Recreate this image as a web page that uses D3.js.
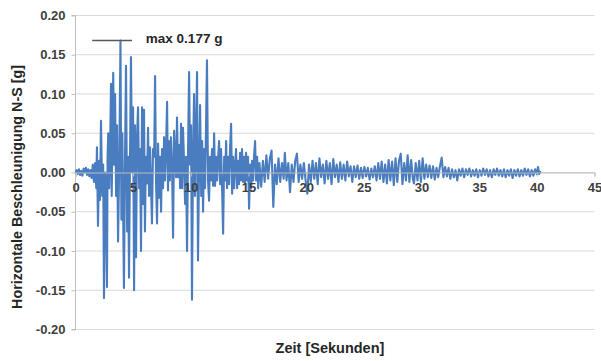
<!DOCTYPE html>
<html>
<head>
<meta charset="utf-8">
<script src="https://cdn.jsdelivr.net/npm/d3@7"></script>
<style>
  html, body { margin: 0; padding: 0; background: #ffffff; }
  svg { display: block; }
  text { font-family: "Liberation Sans", Arial, sans-serif; font-weight: bold; }
</style>
</head>
<body>
<script>
// ---------- data ----------
const times = [
  0.00,0.10,0.20,0.30,0.40,0.50,0.60,0.70,0.80,0.90,1.00,1.10,1.20,1.30,1.40,1.50,1.60,1.70,1.80,1.86,
  1.95,2.05,2.12,2.21,2.32,2.40,2.47,2.58,2.66,2.73,2.78,2.84,2.92,3.00,3.08,3.14,3.20,3.27,3.35,3.43,
  3.52,3.60,3.69,3.80,3.90,3.98,4.06,4.20,4.30,4.38,4.48,4.56,4.64,4.72,4.81,4.90,4.99,5.08,5.16,5.25,
  5.33,5.42,5.52,5.60,5.68,5.77,5.85,5.94,6.02,6.10,6.20,6.29,6.38,6.46,6.55,6.63,6.72,6.82,6.90,6.98,
  7.07,7.16,7.25,7.33,7.42,7.50,7.59,7.68,7.76,7.85,7.94,8.02,8.10,8.18,8.28,8.37,8.46,8.55,8.63,8.72,
  8.80,8.90,9.00,9.07,9.15,9.24,9.32,9.42,9.50,9.58,9.67,9.76,9.85,9.93,10.02,10.10,10.19,10.28,10.36,10.45,
  10.54,10.62,10.71,10.80,10.90,10.98,11.06,11.15,11.23,11.32,11.40,11.49,11.58,11.66,11.75,11.84,11.93,12.02,12.10,12.19,
  12.28,12.37,12.45,12.54,12.62,12.71,12.80,12.89,12.97,13.06,13.14,13.23,13.32,13.40,13.49,13.58,13.66,13.75,13.84,13.92,
  14.01,14.10,14.18,14.27,14.36,14.44,14.53,14.62,14.70,14.79,14.88,14.96,15.05,15.14,15.23,15.31,15.40,15.48,15.57,15.66,
  15.75,15.84,15.95,16.10,16.25,16.40,16.55,16.70,16.85,17.00,17.15,17.30,17.45,17.60,17.75,17.90,18.05,18.15,18.30,18.45,
  18.60,18.75,18.90,19.05,19.20,19.35,19.50,19.65,19.80,19.95,20.10,20.25,20.40,20.55,20.70,20.85,21.00,21.15,21.30,21.45,
  21.60,21.75,21.90,22.05,22.20,22.35,22.50,22.65,22.80,22.95,23.10,23.25,23.40,23.55,23.70,23.85,24.00,24.15,24.30,24.45,
  24.60,24.75,24.90,25.05,25.20,25.35,25.50,25.65,25.80,25.95,26.10,26.25,26.40,26.55,26.70,26.85,27.00,27.15,27.30,27.45,
  27.60,27.75,27.90,28.05,28.20,28.35,28.50,28.65,28.80,28.95,29.10,29.25,29.35,29.50,29.65,29.80,29.95,30.10,30.25,30.40,
  30.55,30.70,30.85,31.00,31.15,31.30,31.45,31.60,31.75,31.90,32.05,32.20,32.35,32.50,32.65,32.80,32.95,33.10,33.25,33.40,
  33.55,33.70,33.85,34.00,34.15,34.30,34.45,34.60,34.75,34.90,35.05,35.20,35.35,35.50,35.65,35.80,35.95,36.10,36.25,36.40,
  36.55,36.70,36.85,37.00,37.15,37.30,37.45,37.60,37.75,37.90,38.05,38.20,38.35,38.50,38.65,38.80,38.95,39.10,39.25,39.40,
  39.55,39.70,39.85,40.00,40.10,40.20,40.30
];
const accel = [
  0.000,0.003,-0.002,0.004,-0.003,0.002,-0.004,0.005,0.000,0.006,-0.003,0.004,-0.005,0.003,-0.007,0.010,-0.012,0.012,-0.020,0.032,
  -0.068,0.015,-0.035,0.066,-0.030,0.010,-0.160,0.000,-0.045,-0.146,0.020,0.050,-0.020,0.030,0.113,-0.030,0.040,0.127,0.010,0.100,
  -0.030,0.060,-0.088,0.020,0.168,-0.060,0.050,-0.147,0.030,0.136,-0.075,0.020,-0.134,0.010,0.147,0.000,0.083,-0.150,0.060,-0.108,
  0.040,0.083,-0.020,0.030,-0.100,0.083,-0.040,0.080,-0.075,0.020,-0.014,0.057,-0.030,0.032,-0.020,-0.065,0.030,0.020,0.123,-0.010,
  -0.065,0.037,-0.032,0.020,-0.050,0.030,-0.020,0.045,-0.010,0.030,0.090,-0.023,0.040,-0.010,0.045,0.010,-0.083,0.053,0.020,-0.006,
  0.070,-0.006,0.035,-0.020,0.062,-0.020,0.057,0.010,-0.040,0.020,-0.100,0.030,0.128,0.010,0.060,-0.162,0.020,0.100,-0.030,0.050,
  0.128,-0.112,0.000,0.086,-0.030,0.040,-0.050,0.030,-0.020,0.060,0.143,-0.010,-0.036,0.020,-0.010,0.030,-0.017,0.050,-0.017,0.020,
  -0.010,0.020,0.040,-0.015,0.030,-0.020,-0.078,0.020,-0.010,0.040,-0.020,0.020,-0.015,0.030,0.062,-0.027,0.020,-0.020,0.010,0.030,
  -0.020,0.015,-0.015,0.025,-0.010,0.030,-0.012,0.020,-0.015,0.025,-0.010,0.020,-0.046,0.010,-0.020,0.015,-0.010,0.020,0.040,-0.010,
  0.020,-0.020,0.012,-0.018,0.015,-0.012,0.022,-0.008,0.018,0.028,-0.044,0.010,-0.015,0.018,-0.012,0.012,-0.008,0.025,-0.010,0.012,
  -0.025,0.010,-0.012,0.015,0.024,-0.012,0.010,-0.008,0.012,-0.010,-0.027,0.010,-0.012,0.015,-0.008,0.012,-0.015,0.018,-0.006,0.010,
  -0.014,0.015,-0.008,0.012,-0.015,0.017,-0.006,0.010,-0.012,0.013,-0.008,0.010,-0.010,0.014,-0.005,0.008,-0.012,0.008,-0.006,0.009,
  -0.008,0.006,-0.007,0.007,-0.005,0.006,-0.009,0.005,-0.006,0.008,-0.010,0.012,-0.008,0.014,-0.012,0.010,-0.014,0.016,-0.010,0.014,
  -0.016,0.018,-0.012,0.015,0.024,-0.015,0.012,-0.010,0.022,-0.012,0.016,-0.008,-0.014,0.012,-0.010,0.015,-0.012,0.018,-0.008,0.010,
  -0.006,0.009,-0.007,0.008,-0.009,0.006,-0.006,0.008,0.019,-0.006,0.007,-0.005,0.006,-0.008,0.004,-0.006,0.003,-0.010,0.004,-0.004,
  0.005,-0.006,0.004,-0.003,0.005,-0.005,0.003,-0.004,0.004,-0.006,0.003,-0.004,0.005,-0.003,0.004,-0.005,0.003,-0.006,0.004,-0.003,
  0.005,-0.004,0.003,-0.005,0.004,-0.006,0.003,-0.004,0.004,-0.007,0.003,-0.004,0.004,-0.005,0.003,-0.004,0.005,-0.003,0.004,-0.005,
  0.003,-0.004,0.004,-0.002,0.007,-0.002,0.002
];
const xTicks = [0, 5, 10, 15, 20, 25, 30, 35, 40, 45];
const yTicks = [-0.20, -0.15, -0.10, -0.05, 0.00, 0.05, 0.10, 0.15, 0.20];
const yTickLabels = ["-0.20", "-0.15", "-0.10", "-0.05", "0.00", "0.05", "0.10", "0.15", "0.20"];
const xTitle = "Zeit [Sekunden]";
const yTitle = "Horizontale Beschleunigung N-S [g]";
const maxLabel = "max 0.177 g";

// ---------- chart ----------
const W = 601, H = 361;
const svg = d3.select("body").append("svg").attr("width", W).attr("height", H);

const x = d3.scaleLinear().domain([0, 45]).range([75.5, 594.5]);
const y = d3.scaleLinear().domain([-0.2, 0.2]).range([329.5, 15.5]);

// horizontal gridlines
svg.append("g").selectAll("line").data(yTicks).join("line")
  .attr("x1", x(0)).attr("x2", x(45))
  .attr("y1", d => y(d)).attr("y2", d => y(d))
  .attr("stroke", "#d9d9d9").attr("stroke-width", 1.2);

// y axis
const yAxis = d3.axisLeft(y).tickValues(yTicks).tickSize(4).tickPadding(6)
  .tickFormat((d, i) => yTickLabels[i]);
const gy = svg.append("g").attr("transform", `translate(${x(0)},0)`).call(yAxis);
gy.select(".domain").attr("stroke", "#bfbfbf").attr("d", `M-4,${y(0.2)}H0V${y(-0.2)}H-4`);
gy.selectAll(".tick line").attr("stroke", "#bfbfbf");
gy.selectAll(".tick text").attr("fill", "#404040").style("font-size", "13px")
  .style("font-family", "'Liberation Sans', Arial, sans-serif").style("font-weight", "bold");

// data line
const line = d3.line().x((d, i) => x(times[i])).y(d => y(d));
svg.append("path").datum(accel)
  .attr("d", line)
  .attr("fill", "none")
  .attr("stroke", "#4a7dbf")
  .attr("stroke-width", 2.1)
  .attr("stroke-linejoin", "round");

// x axis at zero
const xAxis = d3.axisBottom(x).tickValues(xTicks).tickSize(4).tickPadding(6).tickFormat(d3.format("d"));
const gx = svg.append("g").attr("transform", `translate(0,${y(0)})`).call(xAxis);
gx.select(".domain").attr("stroke", "#bfbfbf");
gx.selectAll(".tick line").attr("stroke", "#bfbfbf");
gx.selectAll(".tick text").attr("fill", "#404040").style("font-size", "13px")
  .style("font-family", "'Liberation Sans', Arial, sans-serif").style("font-weight", "bold");

// max annotation
const iMax = d3.maxIndex(accel);
const tMax = times[iMax], vMax = accel[iMax];
svg.append("line")
  .attr("x1", x(tMax - 2.45)).attr("x2", x(tMax + 1.0))
  .attr("y1", y(vMax)).attr("y2", y(vMax))
  .attr("stroke", "#595959").attr("stroke-width", 1.5);
svg.append("text")
  .attr("x", x(tMax + 2.2)).attr("y", y(vMax) + 2)
  .attr("fill", "#262626").style("font-size", "13.5px")
  .text(maxLabel);

// axis titles
svg.append("text")
  .attr("x", 330).attr("y", 353)
  .attr("text-anchor", "middle")
  .attr("fill", "#262626").style("font-size", "14.5px")
  .text(xTitle);
svg.append("text")
  .attr("transform", "translate(22,187) rotate(-90)")
  .attr("text-anchor", "middle")
  .attr("fill", "#262626").style("font-size", "14.3px")
  .text(yTitle);
</script>
</body>
</html>
